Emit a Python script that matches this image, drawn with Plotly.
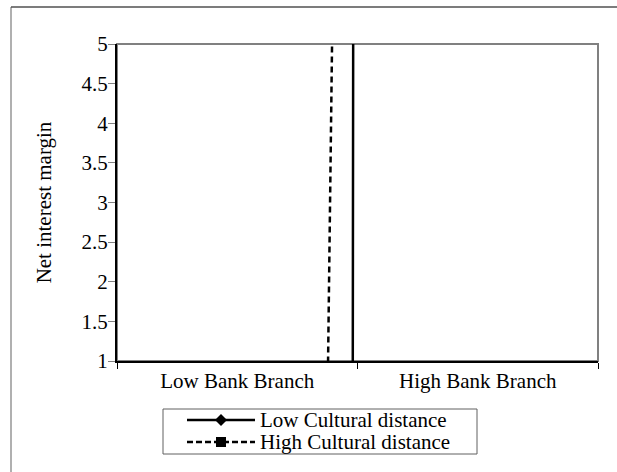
import plotly.graph_objects as go

categories = ["Low Bank Branch", "High Bank Branch"]
low_cultural = [-1200, 1300]
high_cultural = [-90, 151]
series_names = ["Low Cultural distance", "High Cultural distance"]
y_ticks = [1, 1.5, 2, 2.5, 3, 3.5, 4, 4.5, 5]
y_tick_labels = ["1", "1.5", "2", "2.5", "3", "3.5", "4", "4.5", "5"]

FONT = "Liberation Serif, Times New Roman, serif"
FS = 21

fig = go.Figure()
fig.add_trace(go.Scatter(
    x=categories, y=low_cultural, name=series_names[0],
    mode="lines+markers", showlegend=False,
    line=dict(color="black", width=2.5),
    marker=dict(symbol="diamond", size=10, color="black"),
))
fig.add_trace(go.Scatter(
    x=categories, y=high_cultural, name=series_names[1],
    mode="lines+markers", showlegend=False,
    line=dict(color="black", width=2.5, dash="6px,4px"),
    marker=dict(symbol="square", size=10, color="black"),
))

L, R, T, B = 117, 19, 44, 111
W, H = 617, 472
pw = W - L - R
ph = H - T - B


def px(x):
    return (x - L) / pw


def py(y):
    return (H - B - y) / ph


shapes = [
    dict(type="rect", xref="paper", yref="paper", x0=0, x1=1, y0=0, y1=1,
         line=dict(color="#808080", width=2), layer="below"),
    dict(type="line", xref="paper", yref="paper",
         x0=px(11), x1=px(11), y0=py(7), y1=py(480),
         line=dict(color="#b0b0b0", width=2)),
    dict(type="line", xref="paper", yref="paper",
         x0=px(11), x1=px(640), y0=py(7), y1=py(7),
         line=dict(color="#505050", width=1.5)),
    dict(type="rect", xref="paper", yref="paper",
         x0=px(163), x1=px(477), y0=py(409), y1=py(454),
         line=dict(color="#606060", width=1), fillcolor="white"),
]
annotations = []
row_y = [420, 442]
dashes = ["solid", "6px,3px"]
for i, name in enumerate(series_names):
    shapes.append(dict(type="line", xref="paper", yref="paper",
                       x0=px(187), x1=px(255), y0=py(row_y[i]), y1=py(row_y[i]),
                       line=dict(color="black", width=2.5, dash=dashes[i])))
    annotations.append(dict(text=name, xref="paper", yref="paper",
                            x=px(259), y=py(row_y[i]), xanchor="left", yanchor="middle",
                            showarrow=False, borderpad=0,
                            font=dict(family=FONT, size=FS, color="black")))
shapes.append(dict(type="path", xref="paper", yref="paper",
                   path=f"M {px(221)},{py(row_y[0]-6)} L {px(227)},{py(row_y[0])} L {px(221)},{py(row_y[0]+6)} L {px(215)},{py(row_y[0])} Z",
                   fillcolor="black", line=dict(color="black", width=0)))
shapes.append(dict(type="rect", xref="paper", yref="paper",
                   x0=px(216), x1=px(226), y0=py(row_y[1]-5), y1=py(row_y[1]+5),
                   fillcolor="black", line=dict(color="black", width=0)))

fig.update_layout(
    width=W, height=H,
    margin=dict(l=L, r=R, t=T, b=B, pad=0, autoexpand=False),
    paper_bgcolor="white", plot_bgcolor="white",
    font=dict(family=FONT, size=FS, color="black"),
    showlegend=False,
    xaxis=dict(
        type="category", range=[-0.5, 1.5],
        showline=True, linecolor="black", linewidth=2,
        ticks="outside", tickson="boundaries", ticklen=6, tickcolor="black", tickwidth=1,
        showgrid=False, zeroline=False,
        tickfont=dict(family=FONT, size=FS, color="black"),
        fixedrange=True,
    ),
    yaxis=dict(
        range=[1, 5], tickvals=y_ticks, ticktext=y_tick_labels,
        showline=True, linecolor="black", linewidth=2,
        ticks="outside", ticklen=7, tickcolor="#808080", tickwidth=1,
        ticklabelstandoff=-4,
        showgrid=False, zeroline=False,
        tickfont=dict(family=FONT, size=FS, color="black"),
        title=dict(text="Net interest margin", font=dict(family=FONT, size=FS, color="black"), standoff=24),
        fixedrange=True,
    ),
    shapes=shapes,
    annotations=annotations,
)

fig.write_html("out.html", config={"displayModeBar": False, "staticPlot": True},
               post_script="document.body.style.margin='0px';")
